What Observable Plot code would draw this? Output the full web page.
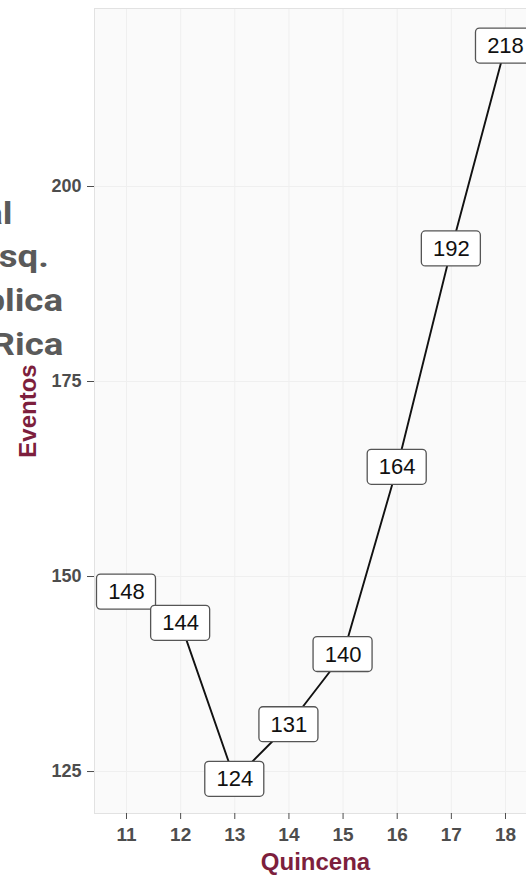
<!DOCTYPE html>
<html><head><meta charset="utf-8">
<script src="https://cdn.jsdelivr.net/npm/d3@7"></script>
<script src="https://cdn.jsdelivr.net/npm/@observablehq/plot@0.6"></script>
<style>
html,body{margin:0;padding:0;background:#fff;overflow:hidden;}
#wrap{position:relative;width:526px;height:876px;overflow:hidden;}
#wrap svg{position:absolute;left:0;top:0;}
.t{position:absolute;font-family:Roboto,"Noto Sans",sans-serif;font-weight:700;font-size:31px;color:#5a5a5a;white-space:nowrap;line-height:1;text-align:right;transform:scaleX(1.18);transform-origin:100% 50%;}
.ax{position:absolute;font-family:"Liberation Sans",Arial,sans-serif;font-weight:700;color:#7d1f3d;white-space:nowrap;line-height:1;}
</style></head><body><div id="wrap"></div>
<script>
const quincenas = [11, 12, 13, 14, 15, 16, 17, 18];
const eventos = [148, 144, 124, 131, 140, 164, 192, 218];
const yTicks = [125, 150, 175, 200];
const titleLines = ["Nacional", "Esq.", "República", "Costa Rica"];
const xLabel = "Quincena";
const yLabel = "Eventos";

const data = quincenas.map((q, i) => ({q, v: eventos[i]}));

const boxHalfW = 0.545; // in x units
const boxHalfH = 2.24;  // in y units

const chart = Plot.plot({
  width: 526,
  height: 876,
  marginLeft: 94,
  marginRight: 0,
  marginTop: 8,
  marginBottom: 63,
  style: {background: "#ffffff", fontFamily: "Liberation Sans, Arial, sans-serif", overflow: "hidden"},
  x: {domain: [10.409, 18.388], axis: null},
  y: {domain: [119.62, 222.82], axis: null},
  marks: [
    Plot.frame({fill: "#fafafa", stroke: null}),
    Plot.gridX(quincenas, {stroke: "#efefef", strokeOpacity: 1, strokeWidth: 1}),
    Plot.gridY(yTicks, {stroke: "#efefef", strokeOpacity: 1, strokeWidth: 1}),
    Plot.frame({stroke: "#e2e2e2", strokeWidth: 1}),
    Plot.axisX(quincenas, {tickSize: 6, tickPadding: 8, fontSize: 19, fontWeight: "bold", color: "#4d4d4d", label: null, tickFormat: d => String(d)}),
    Plot.axisY(yTicks, {tickSize: 7, tickPadding: 6, fontSize: 18, fontWeight: "bold", color: "#4d4d4d", label: null, tickFormat: d => String(d)}),
    Plot.line(data, {x: "q", y: "v", stroke: "#111", strokeWidth: 1.9}),
    Plot.rect(data, {
      x1: d => d.q - boxHalfW, x2: d => d.q + boxHalfW,
      y1: d => d.v - boxHalfH, y2: d => d.v + boxHalfH,
      fill: "white", stroke: "#555", strokeWidth: 1.3, rx: 4
    }),
    Plot.text(data, {x: "q", y: "v", text: d => String(d.v), fontSize: 22, fill: "#111", fontFamily: "Liberation Sans, Arial, sans-serif"})
  ]
});

const wrap = document.getElementById("wrap");
wrap.appendChild(chart);

// Title (cut off at the left edge in the reference)
const titleRight = [12, 49, 63, 63];
const titleBase = [224, 267, 311, 355];
titleLines.forEach((s, i) => {
  const d = document.createElement("div");
  d.className = "t";
  d.textContent = s;
  d.style.right = (526 - titleRight[i]) + "px";
  d.style.top = (titleBase[i] - 26) + "px";
  wrap.appendChild(d);
});

const xl = document.createElement("div");
xl.className = "ax";
xl.textContent = xLabel;
xl.style.fontSize = "24px";
xl.style.left = "315.5px";
xl.style.top = "850px";
xl.style.transform = "translateX(-50%)";
wrap.appendChild(xl);

const yl = document.createElement("div");
yl.className = "ax";
yl.textContent = yLabel;
yl.style.fontSize = "24px";
yl.style.left = "28px";
yl.style.top = "411px";
yl.style.transform = "translate(-50%,-50%) rotate(-90deg)";
wrap.appendChild(yl);
</script>
</body></html>
